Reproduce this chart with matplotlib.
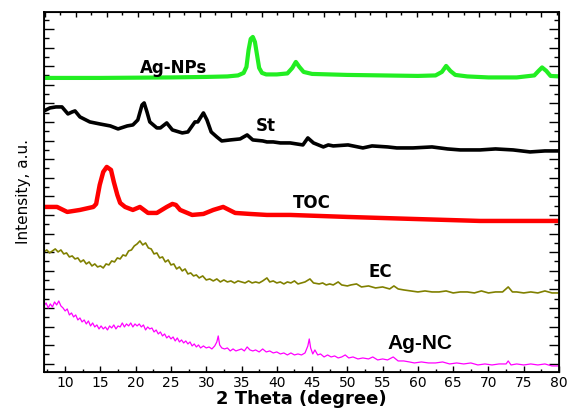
import numpy as np
import matplotlib
matplotlib.use("Agg")
import matplotlib.pyplot as plt
from matplotlib.ticker import MultipleLocator, FixedLocator, NullFormatter

# ---- data (2 theta, intensity a.u.) ----
agnps_x = [7, 15, 25, 30, 33, 34.5, 35.3, 35.7, 36.0, 36.3, 36.6, 36.9, 37.2, 37.5, 37.9,
           38.5, 40, 41.5, 42.2, 42.7, 43.2, 43.8, 45, 50, 55, 60, 62.5, 63.4, 64.0, 64.6,
           65.3, 67, 70, 74, 76.5, 77.1, 77.6, 78.2, 78.8, 80]
agnps_y = [294, 294, 294.5, 295, 295.5, 296.5, 299, 305, 322, 333, 335, 330, 317, 304, 299,
           297.5, 297.5, 298.5, 304, 310, 305, 300, 298, 297, 296.5, 296, 296.5, 300, 306, 301,
           297, 295.5, 294.5, 294.5, 296.5, 301, 304.5, 301, 296, 295.5]

st_x = [7.0, 7.85, 8.7, 9.55, 10.4, 11.0, 11.4, 12.1, 13.5, 14.9, 16.4, 17.5, 18.8, 19.6,
        20.3, 20.9, 21.2, 21.6, 22.0, 23.0, 23.5, 24.4, 25.2, 26.6, 27.4, 28.4, 28.8, 29.6,
        30.1, 30.7, 31.5, 32.2, 33.4, 34.8, 35.8, 36.6, 38.0, 38.6, 39.5, 40.5, 41.9, 43.7,
        44.4, 45.2, 46.6, 47.3, 48.0, 50.1, 52.2, 53.5, 55.7, 57.0, 59.3, 62.0, 64.2, 66.0,
        68.8, 71.0, 73.5, 75.9, 78.0, 80.0]
st_y = [261, 264, 265, 265, 258, 260, 261, 255, 250, 248, 246, 243, 246, 247,
        252, 267, 269, 260, 250, 244, 244, 249, 242, 239, 240, 250, 250, 259,
        252, 240, 235, 231, 232, 233, 237, 232, 231, 230, 230, 229, 229, 227,
        234, 229, 225, 227, 226, 227, 224, 226, 225, 224, 224, 225, 223, 222,
        222, 223, 222, 220, 221, 221]

toc_x = [7.0, 8.85, 10.3, 12.1, 14.0, 14.4, 14.5, 14.9, 15.4, 15.9, 16.5, 16.9, 17.4, 17.8,
         18.5, 19.6, 20.6, 21.75, 23.0, 24.4, 25.2, 25.7, 26.3, 28.0, 29.6, 31.0, 32.4, 34.1,
         36.2, 38.6, 41.9, 50.0, 59.3, 68.8, 80.0]
toc_y = [165, 165, 160, 162, 165, 168, 172, 187, 200, 205, 202, 190, 177, 169,
         165, 162, 165, 159, 159, 165, 168, 167, 162, 157, 158, 162, 165, 159,
         158, 157, 157, 155, 153, 151, 151]

ec_x = [7.0, 7.4, 7.8, 8.2, 8.6, 9.0, 9.4, 9.8, 10.2, 10.6, 11.0, 11.4, 11.8, 12.2, 12.6,
        13.0, 13.4, 13.8, 14.2, 14.6, 15.0, 15.4, 15.8, 16.2, 16.6, 17.0, 17.4, 17.8, 18.2,
        18.6, 19.0, 19.4, 19.8, 20.2, 20.6, 21.0, 21.4, 21.8, 22.2, 22.6, 23.0, 23.4, 23.8,
        24.2, 24.6, 25.0, 25.4, 25.8, 26.2, 26.6, 27.0, 27.4, 27.8, 28.2, 28.6, 29.0, 29.5,
        30.0, 30.5, 31.0, 31.5, 32.0, 32.5, 33.0, 33.5, 34.0, 34.5, 35.0, 35.5, 36.0, 36.5,
        37.0, 37.5, 38.0, 38.6, 39.0, 39.5, 40.0, 40.5, 41.0, 41.5, 42.0, 42.5, 43.0, 43.5,
        44.0, 44.7, 45.2, 46.0, 46.5, 47.0, 47.5, 48.0, 48.7, 49.2, 50.0, 50.5, 51.3, 52.0,
        53.0, 54.0, 55.0, 56.0, 56.6, 57.2, 58.0, 59.0, 60.0, 61.0, 62.0, 63.0, 64.0, 65.0,
        66.0, 67.0, 68.0, 69.0, 70.0, 71.0, 72.0, 72.8, 73.4, 74.0, 75.0, 76.0, 77.0, 78.0,
        79.0, 80.0]
ec_y = [120, 122, 119, 121, 123, 120, 122, 118, 119, 115, 116, 113, 114, 110, 112,
        108, 110, 106, 108, 105, 106, 104, 108, 107, 111, 110, 114, 113, 117,
        116, 121, 122, 126, 128, 131, 127, 129, 124, 123, 118, 119, 114, 115,
        110, 112, 107, 108, 103, 105, 101, 103, 98, 99, 96, 97, 94, 96,
        92, 93, 91, 93, 90, 92, 90, 91, 89, 91, 90, 89, 91, 89,
        90, 89, 91, 94, 90, 91, 89, 90, 88, 90, 89, 91, 88, 89,
        90, 93, 89, 88, 89, 87, 88, 87, 90, 87, 86, 87, 88, 85,
        86, 84, 85, 83, 86, 83, 82, 81, 80, 81, 80, 80, 81, 79,
        80, 80, 79, 81, 79, 80, 80, 85, 80, 80, 79, 80, 79, 81,
        79, 79]

agnc_x = [7.0, 7.3, 7.6, 7.9, 8.2, 8.5, 8.8, 9.1, 9.4, 9.7, 10.0, 10.3, 10.6, 10.9, 11.2,
          11.5, 11.8, 12.1, 12.4, 12.7, 13.0, 13.3, 13.6, 13.9, 14.2, 14.5, 14.8, 15.1, 15.4,
          15.7, 16.0, 16.3, 16.6, 16.9, 17.2, 17.5, 17.8, 18.1, 18.4, 18.7, 19.0, 19.3, 19.6,
          19.9, 20.2, 20.5, 20.8, 21.1, 21.4, 21.7, 22.0, 22.3, 22.6, 22.9, 23.2, 23.5, 23.8,
          24.1, 24.4, 24.7, 25.0, 25.3, 25.6, 25.9, 26.2, 26.5, 26.8, 27.1, 27.4, 27.7, 28.0,
          28.3, 28.6, 28.9, 29.2, 29.6, 30.0, 30.4, 30.8, 31.2, 31.5, 31.7, 31.9, 32.2, 32.6,
          33.0, 33.4, 33.8, 34.2, 34.6, 35.0, 35.4, 35.8, 36.2, 36.6, 37.0, 37.5, 38.0, 38.5,
          39.0, 39.5, 40.0, 40.5, 41.0, 41.5, 42.0, 42.5, 43.0, 43.5, 44.0, 44.4, 44.6, 44.8,
          45.1, 45.4, 45.8, 46.2, 46.7, 47.2, 47.7, 48.2, 48.7, 49.2, 49.7, 50.2, 50.8, 51.5,
          52.2, 53.0, 53.6, 54.3, 55.0, 55.7, 56.5, 57.2, 58.0, 58.8, 59.5, 60.5, 61.5, 62.5,
          63.5, 64.5, 65.5, 66.5, 67.5, 68.5, 69.5, 70.5, 71.5, 72.5, 72.8, 73.2, 74.0, 75.0,
          76.0, 77.0, 78.0, 79.0, 80.0]
agnc_y = [66, 69, 64, 68, 65, 70, 67, 71, 66, 64, 61, 63, 57, 59, 55,
          57, 52, 54, 50, 52, 48, 51, 46, 49, 45, 47, 43, 46, 43,
          45, 42, 46, 44, 47, 43, 46, 45, 49, 45, 48, 46, 49, 45,
          48, 46, 48, 45, 47, 42, 45, 43, 44, 40, 42, 38, 40, 36,
          38, 34, 36, 33, 35, 31, 34, 30, 32, 29, 31, 28, 30, 26,
          28, 25, 27, 24, 26, 24, 25, 23, 26, 30, 36, 27, 24, 23,
          24, 21, 23, 21, 22, 23, 21, 25, 22, 21, 22, 20, 23, 20,
          21, 19, 20, 18, 19, 17, 19, 17, 18, 17, 19, 26, 33, 24,
          18, 22, 17, 18, 15, 17, 15, 16, 14, 15, 17, 14, 15, 13,
          14, 13, 15, 12, 13, 12, 15, 11, 11, 10, 9, 10, 9, 9,
          10, 8, 9, 8, 9, 7, 8, 7, 8, 8, 11, 7, 8, 7,
          8, 7, 8, 6, 6]

x_ticks = [10, 15, 20, 25, 30, 35, 40, 45, 50, 55, 60, 65, 70, 75, 80]

fig = plt.figure(figsize=(5.71, 4.11), dpi=100)
ax = fig.add_axes([0.077, 0.095, 0.902, 0.876])

ax.plot(agnps_x, agnps_y, color='#22ee22', lw=3)
ax.plot(st_x, st_y, color='black', lw=2.6)
ax.plot(toc_x, toc_y, color='#ff0000', lw=3.2)
ax.plot(ec_x, ec_y, color='#808000', lw=1.2)
ax.plot(agnc_x, agnc_y, color='#ff00ff', lw=0.9)

bold = dict(fontweight='bold', family='DejaVu Sans', ha='center', va='center')
ax.text(25.3, 304, 'Ag-NPs', fontsize=12, **bold)
ax.text(38.4, 246, 'St', fontsize=12, **bold)
ax.text(45.0, 169, 'TOC', fontsize=12, **bold)
ax.text(54.7, 100, 'EC', fontsize=12, **bold)
ax.text(60.3, 28, 'Ag-NC', fontsize=15, fontweight='bold', family='Liberation Sans',
        ha='center', va='center')

ax.set_xlim(7, 80)
ax.set_ylim(0, 360)
ax.set_xticks(x_ticks)
ax.xaxis.set_minor_locator(MultipleLocator(2.5))
ax.yaxis.set_major_locator(FixedLocator(np.arange(8.2, 360, 18.6)))
ax.yaxis.set_minor_locator(FixedLocator(np.arange(17.5, 360, 18.6)))
ax.yaxis.set_major_formatter(NullFormatter())

ax.tick_params(axis='x', which='major', direction='in', length=4, width=1, labelsize=10, pad=3)
ax.tick_params(axis='x', which='minor', direction='in', length=2.5, width=1)
ax.tick_params(axis='y', which='major', direction='in', length=7, width=1, left=True, right=True)
ax.tick_params(axis='y', which='minor', direction='in', length=3.5, width=1, left=True, right=True)
for s in ax.spines.values():
    s.set_linewidth(1.3)

# separate top scale
top = ax.twiny()
top.set_xlim(-1.03, 15.58)
top.xaxis.set_major_locator(MultipleLocator(1))
top.xaxis.set_minor_locator(MultipleLocator(0.5))
top.xaxis.set_major_formatter(NullFormatter())
top.tick_params(axis='x', which='major', direction='in', length=3.5, width=1)
top.tick_params(axis='x', which='minor', direction='in', length=2, width=1)

ax.set_xlabel('2 Theta (degree)', fontsize=13, fontweight='bold', labelpad=0)
ax.set_ylabel('Intensity, a.u.', fontsize=11, family=['Liberation Sans Narrow', 'DejaVu Sans'],
              labelpad=6)

fig.savefig('out.png', dpi=100)
